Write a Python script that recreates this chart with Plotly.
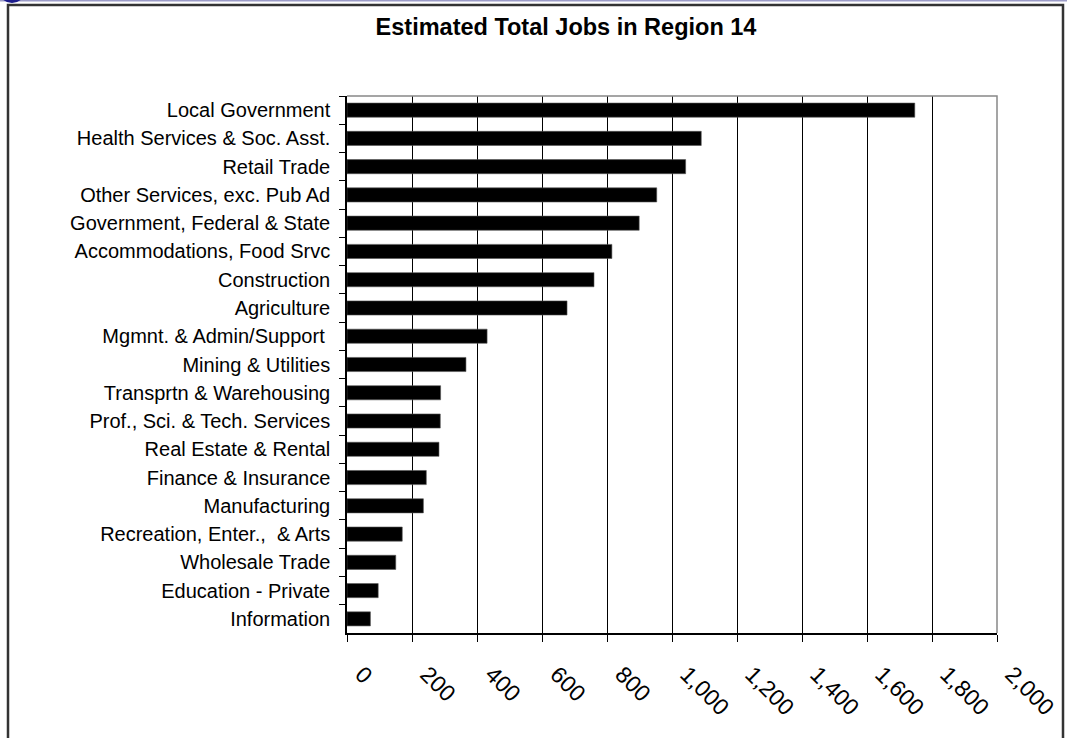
import plotly.graph_objects as go

categories = [
    "Local Government",
    "Health Services & Soc. Asst.",
    "Retail Trade",
    "Other Services, exc. Pub Ad",
    "Government, Federal & State",
    "Accommodations, Food Srvc",
    "Construction",
    "Agriculture",
    "Mgmnt. & Admin/Support\u00a0",
    "Mining & Utilities",
    "Transprtn & Warehousing",
    "Prof., Sci. & Tech. Services",
    "Real Estate & Rental",
    "Finance & Insurance",
    "Manufacturing",
    "Recreation, Enter., \u00a0& Arts",
    "Wholesale Trade",
    "Education - Private",
    "Information",
]
jobs = [1747, 1090, 1042, 953, 899, 815, 760, 677, 431, 366,
        288, 287, 283, 244, 235, 170, 150, 96, 72]
x_ticks = list(range(0, 2001, 200))

W, H = 1067, 738
L, R, T, B = 347, 997, 96, 633

FONT = "Arial, 'Liberation Sans', sans-serif"

fig = go.Figure(go.Bar(
    x=jobs, y=categories, orientation="h",
    marker=dict(color="#000000", line=dict(color="#555555", width=0.6)),
    width=0.5,
))

def px_x(p):
    return (p - L) / (R - L)

def px_y(p):
    return (B - p) / (B - T)

shapes = [
    # outer chart border
    dict(type="path", xref="paper", yref="paper",
         path=f"M {px_x(8)} {px_y(760)} L {px_x(8)} {px_y(5)} L {px_x(1063)} {px_y(5)} L {px_x(1063)} {px_y(760)}",
         line=dict(color="#333333", width=2.5)),
    # top decorative line
    dict(type="line", xref="paper", yref="paper",
         x0=px_x(0), x1=px_x(1067), y0=px_y(0.5), y1=px_y(0.5),
         line=dict(color="#9c9cc8", width=2)),
    # top-left blue disc
    dict(type="circle", xref="paper", yref="paper",
         x0=px_x(-2), x1=px_x(26), y0=px_y(3), y1=px_y(-25),
         fillcolor="#1c1c8c", line=dict(width=0)),
    # plot area top & right border
    dict(type="path", xref="paper", yref="paper",
         path="M 0 1 L 1 1 L 1 0",
         line=dict(color="#888888", width=1.5)),
]

fig.update_layout(
    width=W, height=H,
    margin=dict(l=L, r=W - R, t=T, b=H - B, autoexpand=False),
    paper_bgcolor="white", plot_bgcolor="white",
    showlegend=False,
    font=dict(family=FONT, color="#000000", size=20),
    title=dict(text="<b>Estimated Total Jobs in Region 14</b>",
               x=566 / W, xanchor="center", xref="container",
               y=1 - 27 / H, yanchor="middle", yref="container",
               font=dict(size=23.5, family=FONT, color="#000000")),
    shapes=shapes,
    bargap=0.5,
)

fig.update_xaxes(
    range=[0, 2000], tickvals=x_ticks, tickformat=",d",
    tickangle=45, ticks="outside", ticklen=7, tickcolor="#000000",
    showgrid=True, gridcolor="#000000", gridwidth=1,
    showline=True, linecolor="#000000", linewidth=1.5,
    zeroline=False, tickfont=dict(size=23), ticklabelstandoff=10,
    ticklabelshift=15,
    fixedrange=True,
)
fig.update_yaxes(
    categoryorder="array", categoryarray=categories,
    autorange="reversed",
    ticks="outside", ticklen=6, tickcolor="#000000", tickson="boundaries",
    showgrid=False, showline=True, linecolor="#000000", linewidth=1.5,
    tickfont=dict(size=20), ticklabelstandoff=11,
    fixedrange=True,
)

fig.write_html(
    "out.html",
    config={"displayModeBar": False},
    post_script="document.body.style.margin='0';document.body.style.overflow='hidden';",
)
